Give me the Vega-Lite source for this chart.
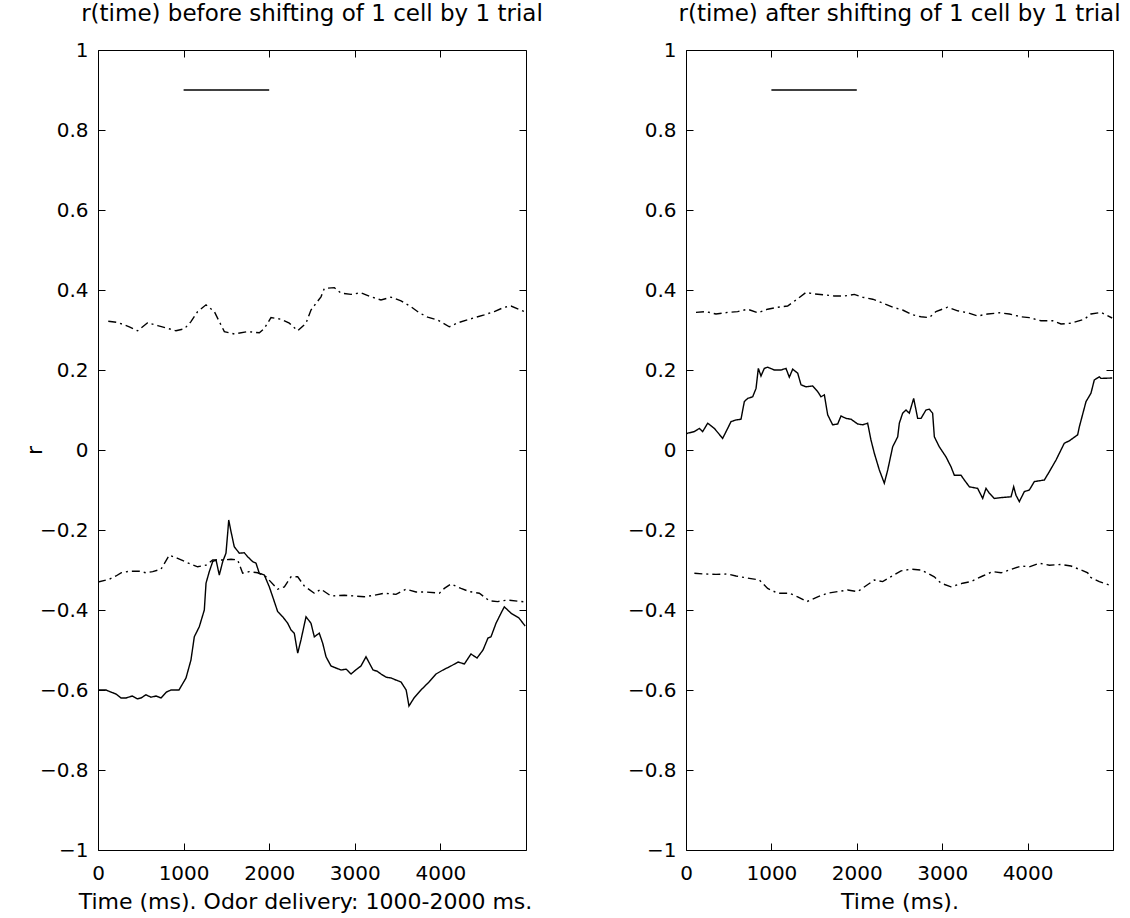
{
  "$schema": "https://vega.github.io/schema/vega-lite/v6.json",
  "background": "white",
  "padding": {"left": 22, "top": 2, "right": 5, "bottom": 0},
  "config": {
    "font": "DejaVu Sans",
    "view": {"stroke": "black", "strokeWidth": 1},
    "axis": {"labelFont": "DejaVu Sans", "labelFontSize": 20, "labelColor": "black", "titleFont": "DejaVu Sans", "titleFontSize": 22, "titleFontWeight": "normal", "titleColor": "black", "domainColor": "black", "tickColor": "black", "grid": false},
    "title": {"font": "DejaVu Sans", "fontSize": 23, "fontWeight": "normal", "color": "black", "anchor": "middle", "offset": 14}
  },
  "spacing": 160,
  "bounds": "flush",
  "datasets": {
    "d": [
      {"p": "L", "s": "odor", "k": "solid", "t": 1000, "r": 0.9},
      {"p": "L", "s": "odor", "k": "solid", "t": 2000, "r": 0.9},
      {"p": "L", "s": "upper", "k": "dashdot", "t": 120, "r": 0.322},
      {"p": "L", "s": "upper", "k": "dashdot", "t": 230, "r": 0.319},
      {"p": "L", "s": "upper", "k": "dashdot", "t": 366, "r": 0.308},
      {"p": "L", "s": "upper", "k": "dashdot", "t": 463, "r": 0.298},
      {"p": "L", "s": "upper", "k": "dashdot", "t": 580, "r": 0.318},
      {"p": "L", "s": "upper", "k": "dashdot", "t": 697, "r": 0.311},
      {"p": "L", "s": "upper", "k": "dashdot", "t": 814, "r": 0.304},
      {"p": "L", "s": "upper", "k": "dashdot", "t": 911, "r": 0.298},
      {"p": "L", "s": "upper", "k": "dashdot", "t": 1009, "r": 0.303},
      {"p": "L", "s": "upper", "k": "dashdot", "t": 1086, "r": 0.321},
      {"p": "L", "s": "upper", "k": "dashdot", "t": 1164, "r": 0.346},
      {"p": "L", "s": "upper", "k": "dashdot", "t": 1262, "r": 0.363},
      {"p": "L", "s": "upper", "k": "dashdot", "t": 1359, "r": 0.346},
      {"p": "L", "s": "upper", "k": "dashdot", "t": 1417, "r": 0.321},
      {"p": "L", "s": "upper", "k": "dashdot", "t": 1476, "r": 0.296},
      {"p": "L", "s": "upper", "k": "dashdot", "t": 1593, "r": 0.29},
      {"p": "L", "s": "upper", "k": "dashdot", "t": 1749, "r": 0.296},
      {"p": "L", "s": "upper", "k": "dashdot", "t": 1885, "r": 0.293},
      {"p": "L", "s": "upper", "k": "dashdot", "t": 1943, "r": 0.304},
      {"p": "L", "s": "upper", "k": "dashdot", "t": 2021, "r": 0.331},
      {"p": "L", "s": "upper", "k": "dashdot", "t": 2138, "r": 0.327},
      {"p": "L", "s": "upper", "k": "dashdot", "t": 2235, "r": 0.317},
      {"p": "L", "s": "upper", "k": "dashdot", "t": 2333, "r": 0.298},
      {"p": "L", "s": "upper", "k": "dashdot", "t": 2430, "r": 0.317},
      {"p": "L", "s": "upper", "k": "dashdot", "t": 2488, "r": 0.35},
      {"p": "L", "s": "upper", "k": "dashdot", "t": 2605, "r": 0.383},
      {"p": "L", "s": "upper", "k": "dashdot", "t": 2644, "r": 0.404},
      {"p": "L", "s": "upper", "k": "dashdot", "t": 2761, "r": 0.406},
      {"p": "L", "s": "upper", "k": "dashdot", "t": 2839, "r": 0.392},
      {"p": "L", "s": "upper", "k": "dashdot", "t": 2956, "r": 0.389},
      {"p": "L", "s": "upper", "k": "dashdot", "t": 3072, "r": 0.393},
      {"p": "L", "s": "upper", "k": "dashdot", "t": 3189, "r": 0.383},
      {"p": "L", "s": "upper", "k": "dashdot", "t": 3306, "r": 0.375},
      {"p": "L", "s": "upper", "k": "dashdot", "t": 3423, "r": 0.382},
      {"p": "L", "s": "upper", "k": "dashdot", "t": 3540, "r": 0.373},
      {"p": "L", "s": "upper", "k": "dashdot", "t": 3657, "r": 0.358},
      {"p": "L", "s": "upper", "k": "dashdot", "t": 3754, "r": 0.343},
      {"p": "L", "s": "upper", "k": "dashdot", "t": 3851, "r": 0.332},
      {"p": "L", "s": "upper", "k": "dashdot", "t": 3968, "r": 0.325},
      {"p": "L", "s": "upper", "k": "dashdot", "t": 4104, "r": 0.308},
      {"p": "L", "s": "upper", "k": "dashdot", "t": 4202, "r": 0.318},
      {"p": "L", "s": "upper", "k": "dashdot", "t": 4416, "r": 0.332},
      {"p": "L", "s": "upper", "k": "dashdot", "t": 4513, "r": 0.338},
      {"p": "L", "s": "upper", "k": "dashdot", "t": 4630, "r": 0.346},
      {"p": "L", "s": "upper", "k": "dashdot", "t": 4747, "r": 0.357},
      {"p": "L", "s": "upper", "k": "dashdot", "t": 4825, "r": 0.36},
      {"p": "L", "s": "upper", "k": "dashdot", "t": 4990, "r": 0.345},
      {"p": "L", "s": "lower", "k": "dashdot", "t": 0, "r": -0.33},
      {"p": "L", "s": "lower", "k": "dashdot", "t": 132, "r": -0.323},
      {"p": "L", "s": "lower", "k": "dashdot", "t": 210, "r": -0.315},
      {"p": "L", "s": "lower", "k": "dashdot", "t": 269, "r": -0.307},
      {"p": "L", "s": "lower", "k": "dashdot", "t": 366, "r": -0.303},
      {"p": "L", "s": "lower", "k": "dashdot", "t": 483, "r": -0.303},
      {"p": "L", "s": "lower", "k": "dashdot", "t": 561, "r": -0.307},
      {"p": "L", "s": "lower", "k": "dashdot", "t": 639, "r": -0.304},
      {"p": "L", "s": "lower", "k": "dashdot", "t": 736, "r": -0.298},
      {"p": "L", "s": "lower", "k": "dashdot", "t": 833, "r": -0.263},
      {"p": "L", "s": "lower", "k": "dashdot", "t": 931, "r": -0.271},
      {"p": "L", "s": "lower", "k": "dashdot", "t": 1048, "r": -0.282},
      {"p": "L", "s": "lower", "k": "dashdot", "t": 1164, "r": -0.292},
      {"p": "L", "s": "lower", "k": "dashdot", "t": 1262, "r": -0.288},
      {"p": "L", "s": "lower", "k": "dashdot", "t": 1340, "r": -0.275},
      {"p": "L", "s": "lower", "k": "dashdot", "t": 1456, "r": -0.275},
      {"p": "L", "s": "lower", "k": "dashdot", "t": 1554, "r": -0.273},
      {"p": "L", "s": "lower", "k": "dashdot", "t": 1632, "r": -0.275},
      {"p": "L", "s": "lower", "k": "dashdot", "t": 1690, "r": -0.308},
      {"p": "L", "s": "lower", "k": "dashdot", "t": 1768, "r": -0.304},
      {"p": "L", "s": "lower", "k": "dashdot", "t": 1865, "r": -0.307},
      {"p": "L", "s": "lower", "k": "dashdot", "t": 1963, "r": -0.317},
      {"p": "L", "s": "lower", "k": "dashdot", "t": 2099, "r": -0.348},
      {"p": "L", "s": "lower", "k": "dashdot", "t": 2177, "r": -0.342},
      {"p": "L", "s": "lower", "k": "dashdot", "t": 2255, "r": -0.317},
      {"p": "L", "s": "lower", "k": "dashdot", "t": 2333, "r": -0.317},
      {"p": "L", "s": "lower", "k": "dashdot", "t": 2410, "r": -0.34},
      {"p": "L", "s": "lower", "k": "dashdot", "t": 2527, "r": -0.358},
      {"p": "L", "s": "lower", "k": "dashdot", "t": 2605, "r": -0.348},
      {"p": "L", "s": "lower", "k": "dashdot", "t": 2722, "r": -0.365},
      {"p": "L", "s": "lower", "k": "dashdot", "t": 2878, "r": -0.363},
      {"p": "L", "s": "lower", "k": "dashdot", "t": 2994, "r": -0.365},
      {"p": "L", "s": "lower", "k": "dashdot", "t": 3111, "r": -0.367},
      {"p": "L", "s": "lower", "k": "dashdot", "t": 3228, "r": -0.363},
      {"p": "L", "s": "lower", "k": "dashdot", "t": 3345, "r": -0.358},
      {"p": "L", "s": "lower", "k": "dashdot", "t": 3481, "r": -0.361},
      {"p": "L", "s": "lower", "k": "dashdot", "t": 3598, "r": -0.348},
      {"p": "L", "s": "lower", "k": "dashdot", "t": 3715, "r": -0.355},
      {"p": "L", "s": "lower", "k": "dashdot", "t": 3832, "r": -0.355},
      {"p": "L", "s": "lower", "k": "dashdot", "t": 3988, "r": -0.358},
      {"p": "L", "s": "lower", "k": "dashdot", "t": 4046, "r": -0.346},
      {"p": "L", "s": "lower", "k": "dashdot", "t": 4124, "r": -0.335},
      {"p": "L", "s": "lower", "k": "dashdot", "t": 4241, "r": -0.346},
      {"p": "L", "s": "lower", "k": "dashdot", "t": 4338, "r": -0.354},
      {"p": "L", "s": "lower", "k": "dashdot", "t": 4455, "r": -0.358},
      {"p": "L", "s": "lower", "k": "dashdot", "t": 4572, "r": -0.377},
      {"p": "L", "s": "lower", "k": "dashdot", "t": 4669, "r": -0.379},
      {"p": "L", "s": "lower", "k": "dashdot", "t": 4786, "r": -0.375},
      {"p": "L", "s": "lower", "k": "dashdot", "t": 4990, "r": -0.38},
      {"p": "L", "s": "main", "k": "solid", "t": 0, "r": -0.6},
      {"p": "L", "s": "main", "k": "solid", "t": 93, "r": -0.6},
      {"p": "L", "s": "main", "k": "solid", "t": 150, "r": -0.605},
      {"p": "L", "s": "main", "k": "solid", "t": 210, "r": -0.61},
      {"p": "L", "s": "main", "k": "solid", "t": 270, "r": -0.62},
      {"p": "L", "s": "main", "k": "solid", "t": 327, "r": -0.62},
      {"p": "L", "s": "main", "k": "solid", "t": 400, "r": -0.615},
      {"p": "L", "s": "main", "k": "solid", "t": 460, "r": -0.622},
      {"p": "L", "s": "main", "k": "solid", "t": 502, "r": -0.62},
      {"p": "L", "s": "main", "k": "solid", "t": 560, "r": -0.612},
      {"p": "L", "s": "main", "k": "solid", "t": 619, "r": -0.618},
      {"p": "L", "s": "main", "k": "solid", "t": 680, "r": -0.615},
      {"p": "L", "s": "main", "k": "solid", "t": 736, "r": -0.62},
      {"p": "L", "s": "main", "k": "solid", "t": 800, "r": -0.605},
      {"p": "L", "s": "main", "k": "solid", "t": 853, "r": -0.6},
      {"p": "L", "s": "main", "k": "solid", "t": 946, "r": -0.6},
      {"p": "L", "s": "main", "k": "solid", "t": 1028, "r": -0.57},
      {"p": "L", "s": "main", "k": "solid", "t": 1086, "r": -0.525},
      {"p": "L", "s": "main", "k": "solid", "t": 1125, "r": -0.467},
      {"p": "L", "s": "main", "k": "solid", "t": 1183, "r": -0.442},
      {"p": "L", "s": "main", "k": "solid", "t": 1242, "r": -0.4},
      {"p": "L", "s": "main", "k": "solid", "t": 1262, "r": -0.333},
      {"p": "L", "s": "main", "k": "solid", "t": 1300, "r": -0.304},
      {"p": "L", "s": "main", "k": "solid", "t": 1340, "r": -0.279},
      {"p": "L", "s": "main", "k": "solid", "t": 1379, "r": -0.275},
      {"p": "L", "s": "main", "k": "solid", "t": 1417, "r": -0.3125},
      {"p": "L", "s": "main", "k": "solid", "t": 1457, "r": -0.279},
      {"p": "L", "s": "main", "k": "solid", "t": 1495, "r": -0.258},
      {"p": "L", "s": "main", "k": "solid", "t": 1515, "r": -0.208},
      {"p": "L", "s": "main", "k": "solid", "t": 1527, "r": -0.175},
      {"p": "L", "s": "main", "k": "solid", "t": 1554, "r": -0.204},
      {"p": "L", "s": "main", "k": "solid", "t": 1592, "r": -0.242},
      {"p": "L", "s": "main", "k": "solid", "t": 1651, "r": -0.258},
      {"p": "L", "s": "main", "k": "solid", "t": 1709, "r": -0.257},
      {"p": "L", "s": "main", "k": "solid", "t": 1749, "r": -0.267},
      {"p": "L", "s": "main", "k": "solid", "t": 1807, "r": -0.279},
      {"p": "L", "s": "main", "k": "solid", "t": 1846, "r": -0.283},
      {"p": "L", "s": "main", "k": "solid", "t": 1884, "r": -0.308},
      {"p": "L", "s": "main", "k": "solid", "t": 1943, "r": -0.3125},
      {"p": "L", "s": "main", "k": "solid", "t": 2001, "r": -0.342},
      {"p": "L", "s": "main", "k": "solid", "t": 2041, "r": -0.367},
      {"p": "L", "s": "main", "k": "solid", "t": 2099, "r": -0.404},
      {"p": "L", "s": "main", "k": "solid", "t": 2158, "r": -0.417},
      {"p": "L", "s": "main", "k": "solid", "t": 2216, "r": -0.433},
      {"p": "L", "s": "main", "k": "solid", "t": 2255, "r": -0.45},
      {"p": "L", "s": "main", "k": "solid", "t": 2293, "r": -0.458},
      {"p": "L", "s": "main", "k": "solid", "t": 2333, "r": -0.508},
      {"p": "L", "s": "main", "k": "solid", "t": 2371, "r": -0.475},
      {"p": "L", "s": "main", "k": "solid", "t": 2430, "r": -0.417},
      {"p": "L", "s": "main", "k": "solid", "t": 2488, "r": -0.433},
      {"p": "L", "s": "main", "k": "solid", "t": 2527, "r": -0.467},
      {"p": "L", "s": "main", "k": "solid", "t": 2585, "r": -0.458},
      {"p": "L", "s": "main", "k": "solid", "t": 2625, "r": -0.483},
      {"p": "L", "s": "main", "k": "solid", "t": 2664, "r": -0.517},
      {"p": "L", "s": "main", "k": "solid", "t": 2722, "r": -0.54},
      {"p": "L", "s": "main", "k": "solid", "t": 2780, "r": -0.545},
      {"p": "L", "s": "main", "k": "solid", "t": 2839, "r": -0.55},
      {"p": "L", "s": "main", "k": "solid", "t": 2900, "r": -0.548},
      {"p": "L", "s": "main", "k": "solid", "t": 2956, "r": -0.56},
      {"p": "L", "s": "main", "k": "solid", "t": 3010, "r": -0.55},
      {"p": "L", "s": "main", "k": "solid", "t": 3072, "r": -0.54},
      {"p": "L", "s": "main", "k": "solid", "t": 3131, "r": -0.517},
      {"p": "L", "s": "main", "k": "solid", "t": 3213, "r": -0.55},
      {"p": "L", "s": "main", "k": "solid", "t": 3260, "r": -0.553},
      {"p": "L", "s": "main", "k": "solid", "t": 3306, "r": -0.56},
      {"p": "L", "s": "main", "k": "solid", "t": 3365, "r": -0.568},
      {"p": "L", "s": "main", "k": "solid", "t": 3423, "r": -0.57},
      {"p": "L", "s": "main", "k": "solid", "t": 3480, "r": -0.575},
      {"p": "L", "s": "main", "k": "solid", "t": 3540, "r": -0.58},
      {"p": "L", "s": "main", "k": "solid", "t": 3600, "r": -0.6},
      {"p": "L", "s": "main", "k": "solid", "t": 3633, "r": -0.64},
      {"p": "L", "s": "main", "k": "solid", "t": 3692, "r": -0.62},
      {"p": "L", "s": "main", "k": "solid", "t": 3773, "r": -0.6},
      {"p": "L", "s": "main", "k": "solid", "t": 3867, "r": -0.58},
      {"p": "L", "s": "main", "k": "solid", "t": 3949, "r": -0.56},
      {"p": "L", "s": "main", "k": "solid", "t": 4030, "r": -0.55},
      {"p": "L", "s": "main", "k": "solid", "t": 4124, "r": -0.54},
      {"p": "L", "s": "main", "k": "solid", "t": 4206, "r": -0.53},
      {"p": "L", "s": "main", "k": "solid", "t": 4280, "r": -0.535},
      {"p": "L", "s": "main", "k": "solid", "t": 4357, "r": -0.51},
      {"p": "L", "s": "main", "k": "solid", "t": 4428, "r": -0.52},
      {"p": "L", "s": "main", "k": "solid", "t": 4498, "r": -0.5},
      {"p": "L", "s": "main", "k": "solid", "t": 4556, "r": -0.47},
      {"p": "L", "s": "main", "k": "solid", "t": 4591, "r": -0.467},
      {"p": "L", "s": "main", "k": "solid", "t": 4650, "r": -0.433},
      {"p": "L", "s": "main", "k": "solid", "t": 4708, "r": -0.408},
      {"p": "L", "s": "main", "k": "solid", "t": 4747, "r": -0.392},
      {"p": "L", "s": "main", "k": "solid", "t": 4786, "r": -0.4},
      {"p": "L", "s": "main", "k": "solid", "t": 4825, "r": -0.408},
      {"p": "L", "s": "main", "k": "solid", "t": 4918, "r": -0.42},
      {"p": "L", "s": "main", "k": "solid", "t": 4990, "r": -0.44},
      {"p": "R", "s": "odor", "k": "solid", "t": 1000, "r": 0.9},
      {"p": "R", "s": "odor", "k": "solid", "t": 2000, "r": 0.9},
      {"p": "R", "s": "upper", "k": "dashdot", "t": 117, "r": 0.344},
      {"p": "R", "s": "upper", "k": "dashdot", "t": 234, "r": 0.346},
      {"p": "R", "s": "upper", "k": "dashdot", "t": 351, "r": 0.34},
      {"p": "R", "s": "upper", "k": "dashdot", "t": 488, "r": 0.344},
      {"p": "R", "s": "upper", "k": "dashdot", "t": 605, "r": 0.346},
      {"p": "R", "s": "upper", "k": "dashdot", "t": 722, "r": 0.352},
      {"p": "R", "s": "upper", "k": "dashdot", "t": 839, "r": 0.343},
      {"p": "R", "s": "upper", "k": "dashdot", "t": 956, "r": 0.352},
      {"p": "R", "s": "upper", "k": "dashdot", "t": 1073, "r": 0.357},
      {"p": "R", "s": "upper", "k": "dashdot", "t": 1190, "r": 0.36},
      {"p": "R", "s": "upper", "k": "dashdot", "t": 1288, "r": 0.375},
      {"p": "R", "s": "upper", "k": "dashdot", "t": 1405, "r": 0.394},
      {"p": "R", "s": "upper", "k": "dashdot", "t": 1503, "r": 0.39},
      {"p": "R", "s": "upper", "k": "dashdot", "t": 1620, "r": 0.388},
      {"p": "R", "s": "upper", "k": "dashdot", "t": 1737, "r": 0.385},
      {"p": "R", "s": "upper", "k": "dashdot", "t": 1854, "r": 0.385},
      {"p": "R", "s": "upper", "k": "dashdot", "t": 1971, "r": 0.389},
      {"p": "R", "s": "upper", "k": "dashdot", "t": 2069, "r": 0.382},
      {"p": "R", "s": "upper", "k": "dashdot", "t": 2186, "r": 0.377},
      {"p": "R", "s": "upper", "k": "dashdot", "t": 2283, "r": 0.369},
      {"p": "R", "s": "upper", "k": "dashdot", "t": 2420, "r": 0.357},
      {"p": "R", "s": "upper", "k": "dashdot", "t": 2537, "r": 0.35},
      {"p": "R", "s": "upper", "k": "dashdot", "t": 2654, "r": 0.338},
      {"p": "R", "s": "upper", "k": "dashdot", "t": 2752, "r": 0.333},
      {"p": "R", "s": "upper", "k": "dashdot", "t": 2849, "r": 0.331},
      {"p": "R", "s": "upper", "k": "dashdot", "t": 2927, "r": 0.346},
      {"p": "R", "s": "upper", "k": "dashdot", "t": 3064, "r": 0.357},
      {"p": "R", "s": "upper", "k": "dashdot", "t": 3181, "r": 0.348},
      {"p": "R", "s": "upper", "k": "dashdot", "t": 3298, "r": 0.343},
      {"p": "R", "s": "upper", "k": "dashdot", "t": 3415, "r": 0.335},
      {"p": "R", "s": "upper", "k": "dashdot", "t": 3532, "r": 0.34},
      {"p": "R", "s": "upper", "k": "dashdot", "t": 3669, "r": 0.343},
      {"p": "R", "s": "upper", "k": "dashdot", "t": 3786, "r": 0.34},
      {"p": "R", "s": "upper", "k": "dashdot", "t": 3923, "r": 0.333},
      {"p": "R", "s": "upper", "k": "dashdot", "t": 4020, "r": 0.331},
      {"p": "R", "s": "upper", "k": "dashdot", "t": 4157, "r": 0.323},
      {"p": "R", "s": "upper", "k": "dashdot", "t": 4294, "r": 0.323},
      {"p": "R", "s": "upper", "k": "dashdot", "t": 4391, "r": 0.315},
      {"p": "R", "s": "upper", "k": "dashdot", "t": 4508, "r": 0.317},
      {"p": "R", "s": "upper", "k": "dashdot", "t": 4664, "r": 0.327},
      {"p": "R", "s": "upper", "k": "dashdot", "t": 4742, "r": 0.34},
      {"p": "R", "s": "upper", "k": "dashdot", "t": 4859, "r": 0.344},
      {"p": "R", "s": "upper", "k": "dashdot", "t": 4990, "r": 0.33},
      {"p": "R", "s": "main", "k": "solid", "t": 0, "r": 0.04},
      {"p": "R", "s": "main", "k": "solid", "t": 20, "r": 0.042},
      {"p": "R", "s": "main", "k": "solid", "t": 98, "r": 0.046},
      {"p": "R", "s": "main", "k": "solid", "t": 156, "r": 0.054},
      {"p": "R", "s": "main", "k": "solid", "t": 195, "r": 0.046},
      {"p": "R", "s": "main", "k": "solid", "t": 254, "r": 0.067},
      {"p": "R", "s": "main", "k": "solid", "t": 332, "r": 0.054},
      {"p": "R", "s": "main", "k": "solid", "t": 429, "r": 0.029},
      {"p": "R", "s": "main", "k": "solid", "t": 488, "r": 0.054},
      {"p": "R", "s": "main", "k": "solid", "t": 527, "r": 0.071},
      {"p": "R", "s": "main", "k": "solid", "t": 585, "r": 0.075},
      {"p": "R", "s": "main", "k": "solid", "t": 644, "r": 0.077},
      {"p": "R", "s": "main", "k": "solid", "t": 683, "r": 0.121},
      {"p": "R", "s": "main", "k": "solid", "t": 722, "r": 0.129},
      {"p": "R", "s": "main", "k": "solid", "t": 781, "r": 0.133},
      {"p": "R", "s": "main", "k": "solid", "t": 820, "r": 0.154},
      {"p": "R", "s": "main", "k": "solid", "t": 847, "r": 0.204},
      {"p": "R", "s": "main", "k": "solid", "t": 878, "r": 0.185},
      {"p": "R", "s": "main", "k": "solid", "t": 917, "r": 0.204},
      {"p": "R", "s": "main", "k": "solid", "t": 956, "r": 0.207},
      {"p": "R", "s": "main", "k": "solid", "t": 1034, "r": 0.2},
      {"p": "R", "s": "main", "k": "solid", "t": 1112, "r": 0.2},
      {"p": "R", "s": "main", "k": "solid", "t": 1171, "r": 0.204},
      {"p": "R", "s": "main", "k": "solid", "t": 1210, "r": 0.182},
      {"p": "R", "s": "main", "k": "solid", "t": 1249, "r": 0.202},
      {"p": "R", "s": "main", "k": "solid", "t": 1308, "r": 0.192},
      {"p": "R", "s": "main", "k": "solid", "t": 1347, "r": 0.163},
      {"p": "R", "s": "main", "k": "solid", "t": 1405, "r": 0.158},
      {"p": "R", "s": "main", "k": "solid", "t": 1483, "r": 0.16},
      {"p": "R", "s": "main", "k": "solid", "t": 1542, "r": 0.146},
      {"p": "R", "s": "main", "k": "solid", "t": 1581, "r": 0.133},
      {"p": "R", "s": "main", "k": "solid", "t": 1620, "r": 0.138},
      {"p": "R", "s": "main", "k": "solid", "t": 1659, "r": 0.088},
      {"p": "R", "s": "main", "k": "solid", "t": 1717, "r": 0.063},
      {"p": "R", "s": "main", "k": "solid", "t": 1776, "r": 0.065},
      {"p": "R", "s": "main", "k": "solid", "t": 1815, "r": 0.085},
      {"p": "R", "s": "main", "k": "solid", "t": 1874, "r": 0.079},
      {"p": "R", "s": "main", "k": "solid", "t": 1932, "r": 0.077},
      {"p": "R", "s": "main", "k": "solid", "t": 2010, "r": 0.065},
      {"p": "R", "s": "main", "k": "solid", "t": 2069, "r": 0.063},
      {"p": "R", "s": "main", "k": "solid", "t": 2127, "r": 0.067},
      {"p": "R", "s": "main", "k": "solid", "t": 2166, "r": 0.025},
      {"p": "R", "s": "main", "k": "solid", "t": 2205, "r": -0.008},
      {"p": "R", "s": "main", "k": "solid", "t": 2264, "r": -0.05},
      {"p": "R", "s": "main", "k": "solid", "t": 2322, "r": -0.083},
      {"p": "R", "s": "main", "k": "solid", "t": 2362, "r": -0.05},
      {"p": "R", "s": "main", "k": "solid", "t": 2420, "r": 0.008},
      {"p": "R", "s": "main", "k": "solid", "t": 2479, "r": 0.033},
      {"p": "R", "s": "main", "k": "solid", "t": 2498, "r": 0.067},
      {"p": "R", "s": "main", "k": "solid", "t": 2537, "r": 0.092},
      {"p": "R", "s": "main", "k": "solid", "t": 2576, "r": 0.1},
      {"p": "R", "s": "main", "k": "solid", "t": 2615, "r": 0.092},
      {"p": "R", "s": "main", "k": "solid", "t": 2666, "r": 0.129},
      {"p": "R", "s": "main", "k": "solid", "t": 2713, "r": 0.079},
      {"p": "R", "s": "main", "k": "solid", "t": 2752, "r": 0.079},
      {"p": "R", "s": "main", "k": "solid", "t": 2810, "r": 0.1},
      {"p": "R", "s": "main", "k": "solid", "t": 2849, "r": 0.102},
      {"p": "R", "s": "main", "k": "solid", "t": 2888, "r": 0.092},
      {"p": "R", "s": "main", "k": "solid", "t": 2908, "r": 0.033},
      {"p": "R", "s": "main", "k": "solid", "t": 2966, "r": 0.008},
      {"p": "R", "s": "main", "k": "solid", "t": 3044, "r": -0.017},
      {"p": "R", "s": "main", "k": "solid", "t": 3103, "r": -0.042},
      {"p": "R", "s": "main", "k": "solid", "t": 3142, "r": -0.063},
      {"p": "R", "s": "main", "k": "solid", "t": 3220, "r": -0.063},
      {"p": "R", "s": "main", "k": "solid", "t": 3259, "r": -0.075},
      {"p": "R", "s": "main", "k": "solid", "t": 3318, "r": -0.092},
      {"p": "R", "s": "main", "k": "solid", "t": 3415, "r": -0.096},
      {"p": "R", "s": "main", "k": "solid", "t": 3474, "r": -0.121},
      {"p": "R", "s": "main", "k": "solid", "t": 3513, "r": -0.096},
      {"p": "R", "s": "main", "k": "solid", "t": 3552, "r": -0.108},
      {"p": "R", "s": "main", "k": "solid", "t": 3610, "r": -0.121},
      {"p": "R", "s": "main", "k": "solid", "t": 3689, "r": -0.119},
      {"p": "R", "s": "main", "k": "solid", "t": 3806, "r": -0.117},
      {"p": "R", "s": "main", "k": "solid", "t": 3837, "r": -0.092},
      {"p": "R", "s": "main", "k": "solid", "t": 3864, "r": -0.113},
      {"p": "R", "s": "main", "k": "solid", "t": 3903, "r": -0.129},
      {"p": "R", "s": "main", "k": "solid", "t": 3962, "r": -0.104},
      {"p": "R", "s": "main", "k": "solid", "t": 4020, "r": -0.1},
      {"p": "R", "s": "main", "k": "solid", "t": 4079, "r": -0.079},
      {"p": "R", "s": "main", "k": "solid", "t": 4196, "r": -0.075},
      {"p": "R", "s": "main", "k": "solid", "t": 4255, "r": -0.054},
      {"p": "R", "s": "main", "k": "solid", "t": 4333, "r": -0.025},
      {"p": "R", "s": "main", "k": "solid", "t": 4430, "r": 0.017},
      {"p": "R", "s": "main", "k": "solid", "t": 4489, "r": 0.023},
      {"p": "R", "s": "main", "k": "solid", "t": 4586, "r": 0.038},
      {"p": "R", "s": "main", "k": "solid", "t": 4606, "r": 0.058},
      {"p": "R", "s": "main", "k": "solid", "t": 4684, "r": 0.121},
      {"p": "R", "s": "main", "k": "solid", "t": 4742, "r": 0.142},
      {"p": "R", "s": "main", "k": "solid", "t": 4781, "r": 0.175},
      {"p": "R", "s": "main", "k": "solid", "t": 4840, "r": 0.183},
      {"p": "R", "s": "main", "k": "solid", "t": 4859, "r": 0.179},
      {"p": "R", "s": "main", "k": "solid", "t": 4990, "r": 0.18},
      {"p": "R", "s": "lower", "k": "dashdot", "t": 98, "r": -0.308},
      {"p": "R", "s": "lower", "k": "dashdot", "t": 215, "r": -0.31},
      {"p": "R", "s": "lower", "k": "dashdot", "t": 351, "r": -0.311},
      {"p": "R", "s": "lower", "k": "dashdot", "t": 488, "r": -0.31},
      {"p": "R", "s": "lower", "k": "dashdot", "t": 585, "r": -0.315},
      {"p": "R", "s": "lower", "k": "dashdot", "t": 742, "r": -0.321},
      {"p": "R", "s": "lower", "k": "dashdot", "t": 859, "r": -0.325},
      {"p": "R", "s": "lower", "k": "dashdot", "t": 956, "r": -0.346},
      {"p": "R", "s": "lower", "k": "dashdot", "t": 1073, "r": -0.358},
      {"p": "R", "s": "lower", "k": "dashdot", "t": 1210, "r": -0.358},
      {"p": "R", "s": "lower", "k": "dashdot", "t": 1308, "r": -0.367},
      {"p": "R", "s": "lower", "k": "dashdot", "t": 1417, "r": -0.379},
      {"p": "R", "s": "lower", "k": "dashdot", "t": 1542, "r": -0.367},
      {"p": "R", "s": "lower", "k": "dashdot", "t": 1659, "r": -0.358},
      {"p": "R", "s": "lower", "k": "dashdot", "t": 1776, "r": -0.354},
      {"p": "R", "s": "lower", "k": "dashdot", "t": 1893, "r": -0.35},
      {"p": "R", "s": "lower", "k": "dashdot", "t": 2010, "r": -0.354},
      {"p": "R", "s": "lower", "k": "dashdot", "t": 2205, "r": -0.325},
      {"p": "R", "s": "lower", "k": "dashdot", "t": 2303, "r": -0.329},
      {"p": "R", "s": "lower", "k": "dashdot", "t": 2432, "r": -0.313},
      {"p": "R", "s": "lower", "k": "dashdot", "t": 2518, "r": -0.302},
      {"p": "R", "s": "lower", "k": "dashdot", "t": 2635, "r": -0.298},
      {"p": "R", "s": "lower", "k": "dashdot", "t": 2752, "r": -0.3},
      {"p": "R", "s": "lower", "k": "dashdot", "t": 2908, "r": -0.317},
      {"p": "R", "s": "lower", "k": "dashdot", "t": 2986, "r": -0.333},
      {"p": "R", "s": "lower", "k": "dashdot", "t": 3103, "r": -0.342},
      {"p": "R", "s": "lower", "k": "dashdot", "t": 3240, "r": -0.333},
      {"p": "R", "s": "lower", "k": "dashdot", "t": 3337, "r": -0.329},
      {"p": "R", "s": "lower", "k": "dashdot", "t": 3474, "r": -0.315},
      {"p": "R", "s": "lower", "k": "dashdot", "t": 3591, "r": -0.304},
      {"p": "R", "s": "lower", "k": "dashdot", "t": 3689, "r": -0.307},
      {"p": "R", "s": "lower", "k": "dashdot", "t": 3923, "r": -0.29},
      {"p": "R", "s": "lower", "k": "dashdot", "t": 4020, "r": -0.292},
      {"p": "R", "s": "lower", "k": "dashdot", "t": 4137, "r": -0.283},
      {"p": "R", "s": "lower", "k": "dashdot", "t": 4255, "r": -0.288},
      {"p": "R", "s": "lower", "k": "dashdot", "t": 4391, "r": -0.286},
      {"p": "R", "s": "lower", "k": "dashdot", "t": 4508, "r": -0.29},
      {"p": "R", "s": "lower", "k": "dashdot", "t": 4625, "r": -0.3},
      {"p": "R", "s": "lower", "k": "dashdot", "t": 4704, "r": -0.307},
      {"p": "R", "s": "lower", "k": "dashdot", "t": 4723, "r": -0.317},
      {"p": "R", "s": "lower", "k": "dashdot", "t": 4840, "r": -0.329},
      {"p": "R", "s": "lower", "k": "dashdot", "t": 4990, "r": -0.34}
    ]
  },
  "hconcat": [
    {
      "width": 428,
      "height": 800,
      "title": "r(time) before shifting of 1 cell by 1 trial",
      "data": {"name": "d"},
      "transform": [{"filter": "datum.p == 'L'"}],
      "layer": [
        {
          "mark": {"type": "line", "color": "black", "strokeWidth": 1.4, "clip": true},
          "encoding": {
            "x": {"field": "t", "type": "quantitative", "scale": {"domain": [0, 5000], "nice": false, "zero": false},
                  "axis": {"orient": "bottom", "values": [0, 1000, 2000, 3000, 4000], "format": "d", "tickSize": -7, "labelPadding": 20, "labelFlush": false, "labelOverlap": false, "domain": false, "title": "Time (ms). Odor delivery: 1000-2000 ms.", "titlePadding": 8, "titleX": 207}},
            "y": {"field": "r", "type": "quantitative", "scale": {"domain": [-1, 1], "nice": false, "zero": false},
                  "axis": {"orient": "left", "values": [-1, -0.8, -0.6, -0.4, -0.2, 0, 0.2, 0.4, 0.6, 0.8, 1], "format": "~g", "tickSize": -7, "labelPadding": 17, "labelOverlap": false, "domain": false, "title": "r", "titleX": -64, "titleY": 400, "titleBaseline": "middle", "titleAlign": "center", "titleAngle": 270}},
            "detail": {"field": "s"},
            "strokeDash": {"field": "k", "type": "nominal", "scale": {"domain": ["solid", "dashdot"], "range": [[1, 0], [8, 4, 2, 4]]}, "legend": null}
          }
        },
        {
          "mark": {"type": "point", "opacity": 0},
          "encoding": {
            "x": {"field": "t", "type": "quantitative", "axis": {"orient": "top", "values": [0, 1000, 2000, 3000, 4000], "tickSize": -7, "labels": false, "domain": false, "title": null}},
            "y": {"field": "r", "type": "quantitative", "axis": {"orient": "right", "values": [-1, -0.8, -0.6, -0.4, -0.2, 0, 0.2, 0.4, 0.6, 0.8, 1], "tickSize": -7, "labels": false, "domain": false, "title": null}}
          }
        }
      ],
      "resolve": {"axis": {"x": "independent", "y": "independent"}}
    },
    {
      "width": 427,
      "height": 800,
      "title": "r(time) after shifting of 1 cell by 1 trial",
      "data": {"name": "d"},
      "transform": [{"filter": "datum.p == 'R'"}],
      "layer": [
        {
          "mark": {"type": "line", "color": "black", "strokeWidth": 1.4, "clip": true},
          "encoding": {
            "x": {"field": "t", "type": "quantitative", "scale": {"domain": [0, 5000], "nice": false, "zero": false},
                  "axis": {"orient": "bottom", "values": [0, 1000, 2000, 3000, 4000], "format": "d", "tickSize": -7, "labelPadding": 20, "labelFlush": false, "labelOverlap": false, "domain": false, "title": "Time (ms).", "titlePadding": 8}},
            "y": {"field": "r", "type": "quantitative", "scale": {"domain": [-1, 1], "nice": false, "zero": false},
                  "axis": {"orient": "left", "values": [-1, -0.8, -0.6, -0.4, -0.2, 0, 0.2, 0.4, 0.6, 0.8, 1], "format": "~g", "tickSize": -7, "labelPadding": 17, "labelOverlap": false, "domain": false, "title": null}},
            "detail": {"field": "s"},
            "strokeDash": {"field": "k", "type": "nominal", "scale": {"domain": ["solid", "dashdot"], "range": [[1, 0], [8, 4, 2, 4]]}, "legend": null}
          }
        },
        {
          "mark": {"type": "point", "opacity": 0},
          "encoding": {
            "x": {"field": "t", "type": "quantitative", "axis": {"orient": "top", "values": [0, 1000, 2000, 3000, 4000], "tickSize": -7, "labels": false, "domain": false, "title": null}},
            "y": {"field": "r", "type": "quantitative", "axis": {"orient": "right", "values": [-1, -0.8, -0.6, -0.4, -0.2, 0, 0.2, 0.4, 0.6, 0.8, 1], "tickSize": -7, "labels": false, "domain": false, "title": null}}
          }
        }
      ],
      "resolve": {"axis": {"x": "independent", "y": "independent"}}
    }
  ]
}
